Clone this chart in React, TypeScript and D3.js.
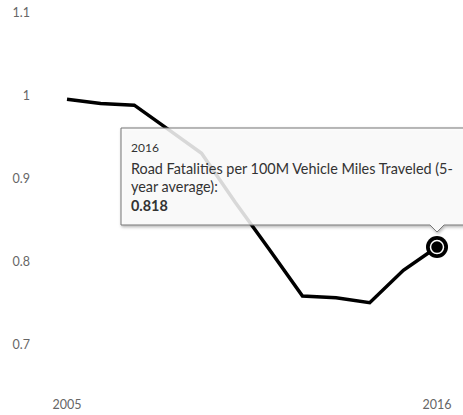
import React from "react";
import * as d3 from "d3";

const years = [2005, 2006, 2007, 2008, 2009, 2010, 2011, 2012, 2013, 2014, 2015, 2016];
const values = [0.996, 0.991, 0.989, 0.96, 0.931, 0.872, 0.816, 0.759, 0.757, 0.751, 0.79, 0.818];
const yTicks = [0.7, 0.8, 0.9, 1, 1.1];
const xTicks = [2005, 2016];
const tipYear = "2016";
const tipLabel1 = "Road Fatalities per 100M Vehicle Miles Traveled (5-";
const tipLabel2 = "year average):";
const tipValue = "0.818";

const W = 463;
const H = 415;

export default function App() {
  const x = d3.scaleLinear().domain([2005, 2016]).range([67, 437]);
  const y = d3.scaleLinear().domain([0.7, 1.1]).range([345, 13]);
  const line = d3
    .line<number>()
    .x((_, i) => x(years[i]))
    .y((d) => y(d));
  const path = line(values) || "";
  const last = values.length - 1;
  const px = x(years[last]);
  const py = y(values[last]);
  const font = "'Source Sans Pro', Lato, 'Open Sans', sans-serif";
  const tipL = 121;
  const tipT = 128;
  const tipB = 225;
  const tipR = 475;
  return (
    <div style={{ position: "absolute", left: 0, top: 0 }}>
      <svg width={W} height={H} style={{ display: "block" }}>
        <defs>
          <filter id="sh" x="-10%" y="-10%" width="130%" height="140%">
            <feDropShadow dx="1" dy="1.5" stdDeviation="1.5" floodColor="#000" floodOpacity="0.35" />
          </filter>
        </defs>
        {yTicks.map((t) => (
          <text key={t} x={30} y={y(t)} dy="0.35em" textAnchor="end" fontSize={12.5} fill="#666" fontFamily={font}>
            {String(t)}
          </text>
        ))}
        {xTicks.map((t) => (
          <text key={t} x={x(t)} y={405} dy="0.35em" textAnchor="middle" fontSize={12.5} fill="#666" fontFamily={font}>
            {String(t)}
          </text>
        ))}
        <path d={path} fill="none" stroke="#000" strokeWidth={3.5} strokeLinejoin="miter" />
        <circle cx={px} cy={py} r={11} fill="#000" />
        <circle cx={px} cy={py} r={6.5} fill="#000" stroke="#fff" strokeWidth={1.5} />
        <g filter="url(#sh)">
          <path
            d={`M${tipL},${tipT} H${tipR} V${tipB} H${px + 7} L${px},${tipB + 7} L${px - 7},${tipB} H${tipL} Z`}
            fill="rgba(255,255,255,0.82)"
            stroke="#777"
            strokeWidth={1}
          />
        </g>
        <g fontFamily={font} fill="#333">
          <text x={131} y={152} fontSize={12}>{tipYear}</text>
          <text x={131} y={174} fontSize={14.4}>{tipLabel1}</text>
          <text x={131} y={192} fontSize={14.4}>{tipLabel2}</text>
          <text x={131} y={211} fontSize={14.4} fontWeight="bold">{tipValue}</text>
        </g>
      </svg>
    </div>
  );
}
